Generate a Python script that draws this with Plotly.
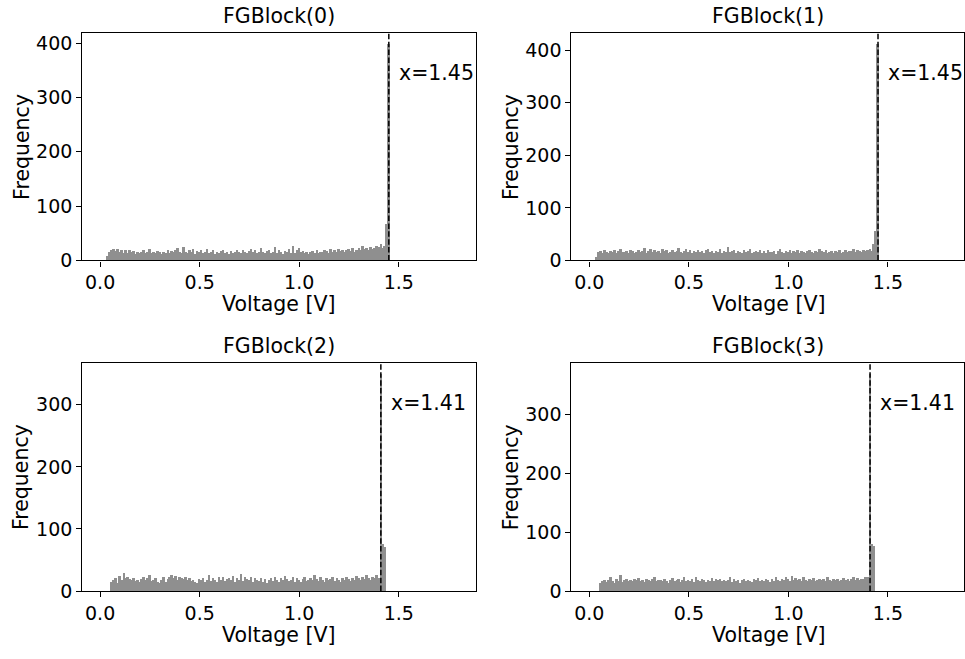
import numpy as np
import plotly.graph_objects as go

# Histogram bin width in volts
BIN_WIDTH = 0.01

titles = ["FGBlock(0)", "FGBlock(1)", "FGBlock(2)", "FGBlock(3)"]
thresholds = [1.45, 1.45, 1.41, 1.41]
# left edge of the first bin in each panel
first_bin = [0.035, 0.035, 0.055, 0.055]
y_top = [419, 433, 368, 388]
y_ticks = [[0, 100, 200, 300, 400], [0, 100, 200, 300, 400],
           [0, 100, 200, 300], [0, 100, 200, 300]]

counts_0 = [
    9, 17, 19, 22, 18, 21, 16, 20, 15, 19,
    14, 20, 16, 18, 13, 17, 15, 16, 19, 14,
    16, 22, 15, 17, 14, 18, 16, 13, 17, 15,
    20, 14, 18, 16, 19, 24, 17, 15, 26, 16,
    14, 19, 17, 21, 13, 18, 16, 20, 15, 17,
    22, 14, 16, 19, 13, 17, 15, 18, 20, 14,
    16, 13, 18, 15, 17, 19, 16, 14, 20, 17,
    15, 18, 21, 16, 19, 14, 17, 23, 16, 15,
    18, 20, 14, 17, 26, 15, 19, 16, 13, 18,
    17, 21, 15, 28, 14, 19, 24, 16, 18, 15,
    17, 13, 16, 18, 15, 19, 14, 17, 16, 20,
    18, 15, 21, 17, 19, 16, 22, 18, 20, 17,
    19, 21, 18, 23, 17, 20, 24, 19, 27, 21,
    23, 20, 26, 21, 24, 28, 25, 30, 24, 27,
    67, 399,
]
counts_1 = [
    8, 16, 18, 15, 20, 17, 14, 19, 16, 21,
    15, 18, 22, 17, 16, 19, 14, 20, 18, 15,
    17, 21, 16, 19, 24, 15, 18, 22, 17, 20,
    16, 19, 14, 23, 18, 21, 15, 17, 20, 16,
    19, 25, 17, 15, 18, 22, 16, 20, 14, 19,
    17, 21, 16, 18, 15, 20, 23, 17, 19, 14,
    18, 16, 22, 15, 19, 17, 26, 16, 18, 21,
    15, 19, 17, 14, 20, 16, 18, 22, 15, 17,
    19, 16, 21, 14, 18, 15, 20, 17, 16, 19,
    13, 18, 22, 16, 15, 19, 17, 20, 14, 18,
    16, 21, 15, 19, 17, 14, 18, 20, 16, 15,
    19, 17, 22, 18, 16, 20, 15, 17, 19, 14,
    18, 16, 20, 15, 17, 21, 16, 19, 18, 22,
    17, 20, 19, 16, 21, 18, 20, 23, 19, 31,
    56, 412,
]
counts_2 = [
    15, 18, 22, 14, 25, 19, 29, 21, 24, 20,
    18, 22, 17, 19, 16, 20, 23, 18, 21, 26,
    17, 19, 22, 16, 14, 18, 23, 15, 20, 24,
    26, 21, 25, 19, 24, 22, 20, 23, 18, 21,
    17, 19, 16, 14, 20, 18, 22, 15, 19, 26,
    17, 21, 18, 16, 23, 19, 24, 17, 20, 22,
    18, 25, 16, 21, 19, 28, 17, 23, 20, 18,
    24, 15, 21, 19, 17, 22, 16, 20, 14, 18,
    21, 17, 23, 19, 16, 22, 18, 25, 20, 17,
    19, 24, 16, 21, 18, 15, 20, 23, 17, 19,
    22, 18, 26, 20, 17, 23, 19, 16, 21, 18,
    20, 24, 17, 22, 19, 16, 21, 18, 23, 20,
    17, 22, 19, 25, 21, 18, 24, 20, 26, 22,
    19, 24, 21, 27, 22,
    350, 76, 72,
]
counts_3 = [
    14, 17, 19, 16, 20, 24, 18, 15, 21, 17,
    28, 16, 19, 22, 18, 20, 17, 21, 19, 23,
    18, 20, 16, 22, 19, 17, 21, 24, 18, 20,
    19, 17, 22, 18, 15, 20, 23, 17, 19, 21,
    16, 19, 24, 17, 20, 18, 22, 16, 25, 19,
    17, 21, 19, 16, 20, 18, 23, 17, 21, 19,
    22, 18, 20, 17, 19, 24, 16, 21, 18, 20,
    15, 19, 22, 17, 20, 18, 16, 21, 19, 23,
    17, 20, 18, 22, 19, 16, 21, 18, 24, 20,
    17, 22, 19, 25, 21, 18, 27, 20, 23, 19,
    22, 18, 24, 20, 17, 21, 19, 23, 18, 20,
    22, 19, 21, 17, 24, 20, 18, 22, 19, 21,
    17, 20, 23, 19, 22, 18, 21, 24, 20, 23,
    19, 22, 21, 25, 24,
    370, 80, 78,
]
all_counts = [counts_0, counts_1, counts_2, counts_3]

W, H = 965, 659
PX_PER_VOLT = 199.3
X_MIN = -0.09
# plot-area boxes in pixels: (left, right, top, bottom)
boxes = [(82.3, 476.0, 32.3, 264.3), (572.0, 965.0, 32.3, 264.3),
         (82.3, 476.0, 368.3, 601.0), (572.0, 965.0, 368.3, 601.0)]
PANEL_W = 393.7

FONT = "DejaVu Sans"
FS_TICK = 19
FS_TEXT = 20.5
fig = go.Figure()
layout = dict(
    width=W, height=H, margin=dict(l=0, r=0, t=0, b=0),
    plot_bgcolor="white", paper_bgcolor="white",
    showlegend=False, bargap=0,
    font=dict(family=FONT, size=FS_TICK, color="black"),
)
annotations, shapes = [], []

for i in range(4):
    l, r, t, b = boxes[i]
    ax = "" if i == 0 else str(i + 1)
    xa, ya = "x" + ax, "y" + ax
    counts = np.array(all_counts[i])
    lefts = first_bin[i] + BIN_WIDTH * np.arange(len(counts))
    fig.add_trace(go.Bar(
        x=lefts + BIN_WIDTH / 2, y=counts, width=BIN_WIDTH,
        marker=dict(color="#8f8f8f", line=dict(width=0)),
        xaxis=xa, yaxis=ya, hoverinfo="x+y",
    ))
    common = dict(showgrid=False, zeroline=False, showline=True, linecolor="black",
                  linewidth=1.1, mirror=True, ticks="outside", ticklen=5,
                  tickwidth=1.1, tickcolor="black",
                  tickfont=dict(family=FONT, size=FS_TICK, color="black"))
    layout["xaxis" + ax] = dict(
        common, domain=[l / W, r / W],
        range=[X_MIN, X_MIN + (r - l) / PX_PER_VOLT],
        tickvals=[0.0, 0.5, 1.0, 1.5], ticktext=["0.0", "0.5", "1.0", "1.5"],
        anchor=ya,
    )
    layout["yaxis" + ax] = dict(
        common, domain=[1 - b / H, 1 - t / H], range=[0, y_top[i]],
        tickvals=y_ticks[i], anchor=xa,
    )
    v = thresholds[i]
    shapes.append(dict(
        type="line", xref=xa, yref=ya + " domain", x0=v, x1=v, y0=0, y1=1,
        line=dict(color="black", width=1.5, dash="5.5px,2.4px"),
    ))
    annotations.append(dict(
        xref=xa, yref=ya + " domain", x=v + 0.04, y=0.825,
        text=f"x={v:.2f}", showarrow=False, xanchor="left", yanchor="middle",
        font=dict(family=FONT, size=FS_TEXT, color="black"),
    ))
    # panel title
    annotations.append(dict(
        xref="paper", yref="paper", x=(l + PANEL_W / 2) / W, y=1 - (t - 3) / H,
        text=titles[i], showarrow=False, xanchor="center", yanchor="bottom",
        font=dict(family=FONT, size=FS_TEXT, color="black"),
    ))
    # axis titles
    annotations.append(dict(
        xref="paper", yref="paper", x=(l + PANEL_W / 2) / W, y=1 - (b + 30) / H,
        text="Voltage [V]", showarrow=False, xanchor="center", yanchor="top",
        font=dict(family=FONT, size=FS_TEXT, color="black"),
    ))
    annotations.append(dict(
        xref="paper", yref="paper", x=(l - 75) / W, y=1 - ((t + b) / 2) / H,
        text="Frequency", showarrow=False, xanchor="left", yanchor="middle",
        textangle=-90, font=dict(family=FONT, size=FS_TEXT, color="black"),
    ))

layout["annotations"] = annotations
layout["shapes"] = shapes
fig.update_layout(**layout)
fig.write_html("out.html")
